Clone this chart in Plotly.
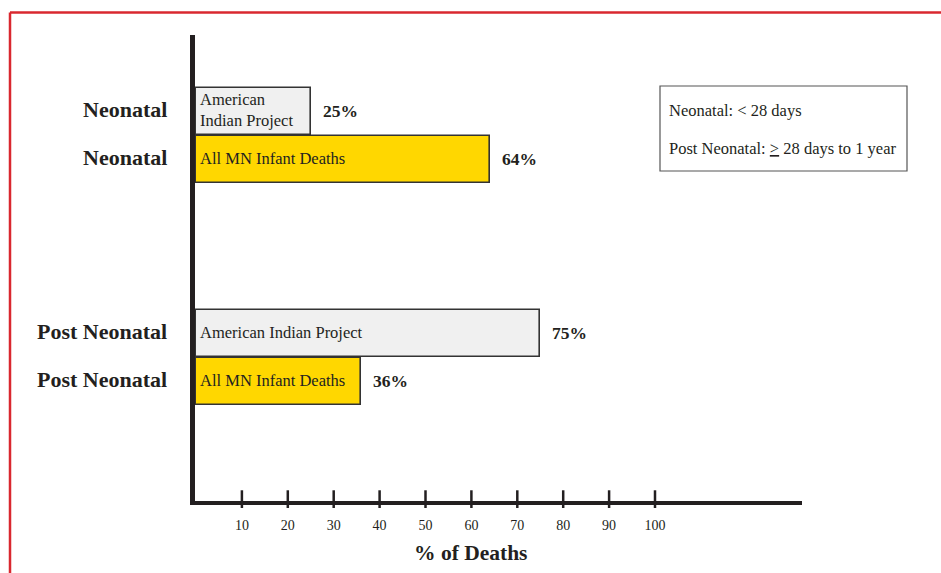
import plotly.graph_objects as go

# Share of infant deaths by age at death
groups = ["Neonatal", "Post Neonatal"]
series_names = ["American Indian Project", "All MN Infant Deaths"]
series_labels = [["American<br>Indian Project", "All MN Infant Deaths"],
                 ["American Indian Project", "All MN Infant Deaths"]]
aip_values = [25, 75]
mn_values = [64, 36]
x_ticks = [10, 20, 30, 40, 50, 60, 70, 80, 90, 100]

serif = "Liberation Serif, Times New Roman, serif"
ink = "#231f20"
fills = ["#f0f0f0", "#ffd700"]

# vertical layout: two bars per group, groups separated by a gap
group_gap = 4.625
positions = []
for gi in range(len(groups)):
    base = 1 + gi * group_gap
    positions.append([base, base + 1])

plot_left = 195
plot_w = 607
plot_h = 466
px_per_unit = 4.59
x_min = -1.0 / px_per_unit
x_max = plot_w / px_per_unit + x_min


def px_x(p):
    return (p - plot_left) / plot_w


def px_y(p):
    return (501 - p) / plot_h


fig = go.Figure()
for si, (name, vals) in enumerate(zip(series_names, [aip_values, mn_values])):
    ys = [positions[gi][si] for gi in range(len(groups))]
    fig.add_trace(go.Bar(
        x=vals, y=ys, orientation="h", width=0.97, name=name,
        marker=dict(color=fills[si], line=dict(color="#333333", width=1.6)),
        hoverinfo="skip", showlegend=False,
    ))
    for gi in range(len(groups)):
        # label inside the bar
        fig.add_annotation(x=0, y=ys[gi], xref="x", yref="y", text=series_labels[gi][si],
                           xanchor="left", yanchor="middle", align="left", xshift=2, yshift=1,
                           showarrow=False, font=dict(family=serif, size=16.5, color=ink))
        # value label to the right of the bar
        fig.add_annotation(x=vals[gi], y=ys[gi], xref="x", yref="y", text=f"<b>{vals[gi]}%</b>",
                           xanchor="left", yanchor="middle", xshift=10,
                           showarrow=False, font=dict(family=serif, size=17.5, color=ink))
        # group label left of the axis
        fig.add_annotation(x=px_x(169), y=ys[gi], xref="paper", yref="y", text=f"<b>{groups[gi]}</b>",
                           xanchor="right", yanchor="middle", yshift=2,
                           showarrow=False, font=dict(family=serif, size=22, color=ink))

fig.update_layout(
    width=941, height=573,
    margin=dict(l=plot_left, r=941 - plot_left - plot_w, t=35, b=72),
    paper_bgcolor="white", plot_bgcolor="white",
    bargap=0,
    xaxis=dict(range=[x_min, x_max], tickvals=x_ticks, ticktext=[str(t) for t in x_ticks],
               showgrid=False, zeroline=False, showline=True, linecolor=ink, linewidth=4,
               ticks="", ticklabelstandoff=8,
               tickfont=dict(family=serif, size=14, color=ink)),
    yaxis=dict(range=[9.118, -0.59], showticklabels=False,
               showgrid=False, zeroline=False, showline=True, linecolor=ink, linewidth=5,
               ticks=""),
)

# axis title
fig.add_annotation(xref="paper", yref="paper", x=px_x(470), y=px_y(553), text="<b>% of Deaths</b>",
                   xanchor="center", yanchor="middle", showarrow=False,
                   font=dict(family=serif, size=21.5, color=ink))

# tick marks crossing the x axis line
for t in x_ticks:
    fig.add_shape(type="line", xref="x", yref="paper", x0=t, x1=t, y0=-0.015, y1=0.023,
                  line=dict(color=ink, width=2.5))

# definition box
fig.add_shape(type="rect", xref="paper", yref="paper",
              x0=px_x(660), x1=px_x(907), y0=px_y(171), y1=px_y(86),
              line=dict(color="#555555", width=1.2), fillcolor="white")
fig.add_annotation(xref="paper", yref="paper", x=px_x(667), y=px_y(111),
                   text="Neonatal: < 28 days", xanchor="left", yanchor="middle", showarrow=False,
                   font=dict(family=serif, size=16.5, color=ink))
fig.add_annotation(xref="paper", yref="paper", x=px_x(667), y=px_y(148),
                   text="Post Neonatal: <u>></u> 28 days to 1 year", xanchor="left", yanchor="middle",
                   showarrow=False, font=dict(family=serif, size=16.5, color=ink))

# red page frame (top and left edges)
red = "#d9282f"
fig.add_shape(type="line", xref="paper", yref="paper",
              x0=px_x(10), x1=px_x(945), y0=px_y(12.5), y1=px_y(12.5),
              line=dict(color=red, width=2.5))
fig.add_shape(type="line", xref="paper", yref="paper",
              x0=px_x(10), x1=px_x(10), y0=px_y(12.5), y1=px_y(580),
              line=dict(color=red, width=2.5))

fig.write_html("out.html")
